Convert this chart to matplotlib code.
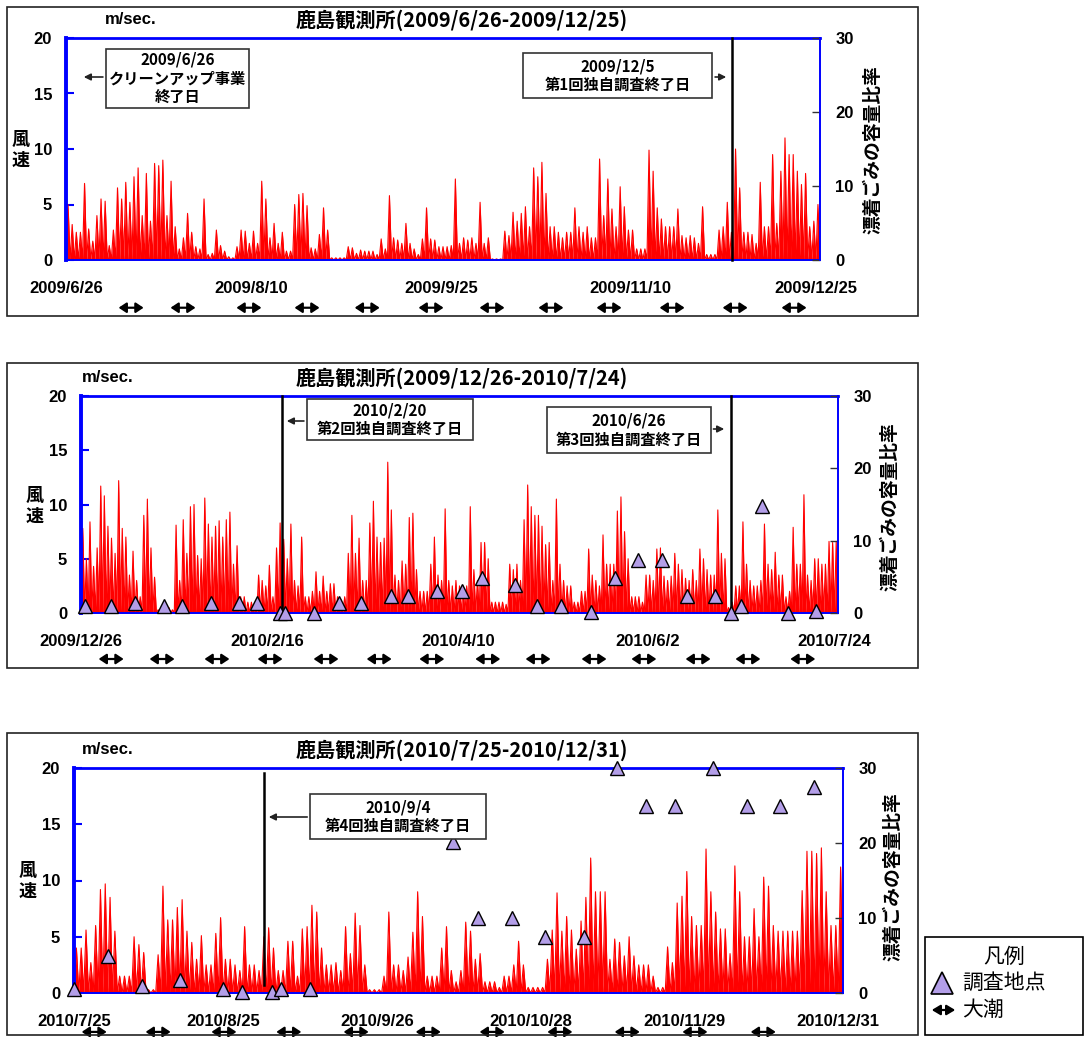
import numpy as np
import pandas as pd
import matplotlib
matplotlib.use('Agg')
import matplotlib.pyplot as plt
import matplotlib.patches as patches
from matplotlib.lines import Line2D

plt.rcParams['font.family'] = ['Liberation Sans', 'Noto Sans CJK JP']
plt.rcParams['font.weight'] = 'bold'
JP = ['Noto Sans CJK JP', 'DejaVu Sans']

W, H = 1084, 1037

# ---------------- panel 1: 2009/6/26 - 2009/12/25 ----------------
p1_start = '2009-06-26'
p1_ndays = 183
p1_title = '鹿島観測所(2009/6/26-2009/12/25)'
p1_ticks = ['2009/6/26', '2009/8/10', '2009/9/25', '2009/11/10', '2009/12/25']
# daily peak wind speed (m/sec.)
p1_wind = [5.0, 3.2, 2.5, 2.5, 6.9, 2.8, 1.7, 4.0, 5.5, 5.3,
           1.3, 2.7, 6.5, 5.5, 7.0, 5.2, 7.5, 8.3, 4.0, 7.8,
           3.5, 8.7, 8.5, 9.0, 4.0, 7.1, 3.0, 1.0, 2.0, 4.2,
           2.5, 1.2, 1.0, 5.5, 0.5, 0.6, 2.7, 1.3, 0.8, 0.3,
           0.2, 1.2, 2.7, 2.6, 1.5, 2.6, 1.5, 7.1, 5.5, 2.0,
           3.3, 1.5, 2.5, 0.8, 0.8, 5.0, 5.9, 6.0, 4.9, 1.1,
           1.0, 2.3, 4.7, 2.7, 0.2, 0.2, 0.2, 0.2, 1.2, 1.1,
           0.6, 0.9, 0.8, 0.8, 0.8, 0.5, 1.9, 1.0, 5.8, 2.0,
           1.8, 1.5, 3.3, 1.5, 1.0, 0.5, 1.9, 4.7, 1.9, 1.8,
           1.2, 1.2, 1.2, 1.3, 7.3, 1.5, 2.0, 1.8, 2.0, 1.5,
           5.2, 1.5, 2.0, 0.1, 0.1, 0.1, 2.6, 2.2, 4.3, 3.5,
           4.2, 4.8, 3.0, 8.3, 7.5, 8.8, 6.0, 3.0, 3.0, 2.5,
           2.0, 2.5, 2.5, 4.7, 3.0, 2.5, 3.0, 2.0, 2.0, 9.1,
           4.0, 7.3, 4.6, 3.0, 6.6, 4.8, 2.7, 2.7, 1.0, 1.0,
           1.0, 9.9, 8.0, 4.7, 3.7, 3.0, 3.0, 3.0, 4.6, 2.2,
           2.0, 2.2, 2.0, 1.5, 4.8, 0.5, 0.5, 0.5, 2.7, 3.0,
           5.2, 2.5, 10.0, 6.5, 2.5, 2.5, 2.3, 1.5, 7.0, 3.0,
           3.0, 9.5, 3.3, 8.0, 11.0, 9.5, 9.5, 8.0, 6.8, 7.8,
           3.0, 3.5, 5.0]
p1_tide = [15.8, 28.4, 44.4, 58.5, 73.1, 88.6, 103.4, 117.7, 131.8, 147.1, 162.4, 176.7]
p1_event = [161.6]

# ---------------- panel 2: 2009/12/26 - 2010/7/24 ----------------
p2_start = '2009-12-26'
p2_ndays = 211
p2_title = '鹿島観測所(2009/12/26-2010/7/24)'
p2_ticks = ['2009/12/26', '2010/2/16', '2010/4/10', '2010/6/2', '2010/7/24']
p2_wind = [7.8, 5.0, 8.4, 4.3, 6.0, 11.7, 10.8, 8.0, 6.9, 5.5,
           12.2, 7.8, 7.0, 3.5, 5.7, 3.0, 1.5, 9.0, 10.5, 6.0,
           3.3, 0.3, 0.3, 0.3, 0.5, 0.3, 8.1, 3.0, 8.6, 5.5,
           9.8, 10.0, 5.3, 5.0, 10.6, 8.2, 7.0, 8.0, 8.5, 7.0,
           8.6, 9.3, 4.5, 6.2, 1.5, 1.5, 1.0, 1.0, 0.8, 3.5,
           3.0, 2.5, 4.4, 1.5, 6.0, 8.3, 6.8, 5.0, 8.2, 3.0,
           2.5, 7.0, 1.5, 1.5, 2.0, 3.8, 2.0, 3.4, 2.0, 2.7,
           2.7, 1.5, 1.2, 1.5, 5.5, 9.0, 5.5, 6.9, 3.0, 3.0,
           8.3, 10.3, 7.0, 6.5, 6.9, 13.9, 9.5, 3.5, 3.0, 4.8,
           4.5, 8.8, 9.2, 4.0, 2.0, 2.0, 2.0, 4.5, 7.0, 3.5,
           3.0, 9.6, 3.0, 2.5, 3.0, 2.5, 2.5, 2.5, 9.8, 4.0,
           3.0, 6.5, 6.5, 5.0, 1.0, 1.0, 1.0, 1.0, 0.8, 4.5,
           4.0, 4.5, 3.0, 8.6, 11.8, 9.8, 9.0, 9.0, 8.0, 6.3,
           6.5, 3.0, 10.5, 4.5, 3.0, 2.5, 2.5, 1.0, 1.0, 2.0,
           2.0, 5.9, 3.5, 3.0, 2.5, 7.2, 4.5, 4.5, 4.5, 9.4,
           10.7, 7.5, 5.0, 1.5, 1.5, 1.5, 1.0, 3.5, 3.5, 3.0,
           5.9, 6.0, 3.4, 3.0, 3.4, 5.5, 4.5, 4.0, 3.2, 3.0,
           4.0, 3.0, 5.9, 5.0, 4.0, 3.5, 3.5, 9.5, 5.5, 5.0,
           0.5, 1.0, 2.5, 2.5, 8.4, 4.5, 3.0, 2.5, 2.5, 3.0,
           8.2, 4.5, 4.0, 5.6, 3.5, 3.5, 1.5, 2.0, 7.9, 4.5,
           4.5, 10.9, 3.5, 3.0, 5.0, 5.0, 4.5, 4.5, 6.6, 6.5,
           6.6]
p2_tide = [8.4, 22.6, 37.9, 52.7, 68.3, 83.1, 97.8, 113.4, 127.4, 143.0, 156.9, 172.0, 185.9, 201.2]
p2_event = [56.0, 181.1]
# survey points: day offset, litter volume ratio
p2_survey_day = [1.2, 8.4, 15.1, 23.1, 28.1, 36.1, 44.0, 49.0, 55.5, 57.0,
                 64.9, 71.9, 78.0, 86.3, 91.1, 99.1, 106.1, 111.8, 121.0, 127.2,
                 133.9, 142.1, 148.8, 155.2, 161.9, 169.0, 176.8, 181.1, 184.0, 189.7,
                 197.0, 205.0]
p2_survey_val = [0.9, 0.9, 1.4, 0.9, 0.9, 1.4, 1.4, 1.4, 0.0, 0.0,
                 0.0, 1.4, 1.4, 2.4, 2.4, 3.1, 3.0, 4.8, 3.9, 0.9,
                 0.9, 0.2, 4.8, 7.3, 7.3, 2.3, 2.3, 0.0, 0.9, 14.8,
                 0.0, 0.3]

# ---------------- panel 3: 2010/7/25 - 2010/12/31 ----------------
p3_start = '2010-07-25'
p3_ndays = 160
p3_title = '鹿島観測所(2010/7/25-2010/12/31)'
p3_ticks = ['2010/7/25', '2010/8/25', '2010/9/26', '2010/10/28', '2010/11/29', '2010/12/31']
p3_wind = [4.0, 4.0, 5.6, 2.7, 6.0, 9.2, 9.7, 8.5, 5.5, 1.5,
           1.5, 1.5, 5.0, 4.3, 3.6, 0.3, 0.3, 3.4, 9.5, 6.5,
           6.5, 7.6, 8.3, 5.5, 4.5, 3.0, 5.1, 2.5, 2.5, 5.3,
           6.7, 3.0, 3.0, 2.5, 2.0, 5.9, 2.5, 2.5, 2.0, 5.0,
           5.8, 4.0, 2.0, 2.0, 4.6, 4.6, 1.5, 5.7, 5.9, 7.8,
           7.2, 4.0, 2.5, 2.5, 2.7, 2.0, 5.9, 3.5, 7.1, 6.0,
           2.5, 0.3, 0.3, 0.3, 1.5, 7.2, 2.5, 2.5, 2.0, 3.2,
           5.4, 9.0, 6.8, 1.5, 1.5, 1.5, 4.0, 5.9, 2.0, 1.0,
           2.0, 6.3, 5.5, 3.0, 3.5, 1.0, 1.0, 1.0, 0.5, 1.5,
           1.5, 2.5, 4.6, 2.5, 0.5, 0.5, 0.5, 0.5, 3.0, 5.6,
           8.9, 5.5, 6.8, 5.6, 3.9, 6.4, 8.5, 12.0, 9.0, 9.0,
           9.0, 3.0, 4.8, 4.5, 3.3, 5.0, 3.3, 2.5, 2.5, 2.5,
           1.5, 0.5, 0.5, 4.1, 2.7, 8.0, 8.6, 10.8, 6.8, 6.0,
           6.0, 12.8, 9.0, 7.2, 5.7, 5.7, 3.5, 11.3, 9.0, 5.0,
           5.0, 7.5, 5.0, 10.3, 9.5, 6.0, 5.5, 5.5, 5.5, 5.5,
           5.5, 9.1, 12.6, 12.6, 12.4, 12.9, 9.0, 6.0, 6.0, 11.2]
p3_tide = [4.2, 17.5, 31.2, 44.7, 58.7, 73.7, 87.0, 101.1, 115.1, 129.2, 143.4]
p3_event = [39.5]
p3_survey_day = [0.1, 7.1, 14.2, 22.1, 31.1, 35.0, 41.1, 43.1, 49.0, 78.9,
                 84.0, 91.1, 98.1, 106.1, 112.9, 119.0, 125.0, 133.0, 140.0, 146.9,
                 154.0]
p3_survey_val = [0.5, 5.0, 1.0, 1.7, 0.5, 0.1, 0.1, 0.5, 0.5, 20.1,
                 10.0, 10.0, 7.5, 7.5, 30.0, 25.0, 25.0, 30.0, 25.0, 25.0,
                 27.5]


def fx(x):
    return x / W


def fy(y):
    return 1 - y / H


def draw_panel(fig, area, frame, start, ndays, title, ticks, wind, tide,
               events, survey_day=None, survey_val=None, tide_y=-0.21,
               event_span=(0, 1), unit_x=82):
    l, t, r, b = area
    ax = fig.add_axes([fx(l), fy(b), (r - l) / W, (b - t) / H])
    ax2 = ax.twinx()

    # outer chart frame
    fl, ft, fr, fb = frame
    fig.patches.append(patches.Rectangle((fx(fl), fy(fb)), (fr - fl) / W, (fb - ft) / H,
                                         transform=fig.transFigure, fill=False,
                                         edgecolor='#222222', lw=1.2))

    # wind speed spikes
    days = np.arange(len(wind))
    xs = np.append(np.column_stack([days, days + 0.5]).ravel(), len(wind))
    ys = np.append(np.column_stack([np.zeros(len(wind)), wind]).ravel(), 0)
    ax.fill_between(xs, ys, color='red', lw=0)
    ax.plot(xs, ys, color='red', lw=0.8)

    ax.set_xlim(0, ndays)
    ax.set_ylim(0, 20)
    ax2.set_ylim(0, 30)

    start_ts = pd.Timestamp(start)
    tick_pos = (pd.to_datetime(ticks, format='%Y/%m/%d') - start_ts).days
    ax.set_xticks(tick_pos, ticks)
    ax.tick_params(axis='x', length=0, pad=15, labelsize=12)

    ax.set_yticks([0, 5, 10, 15, 20])
    ax.tick_params(axis='y', direction='in', length=6, width=1.5, color='blue',
                   labelsize=12, pad=10)
    ax2.set_yticks([0, 10, 20, 30])
    ax2.tick_params(axis='y', direction='in', length=6, width=1, color='#333333',
                    labelsize=12, pad=11)

    ax.spines['right'].set_visible(False)
    for s in ['left', 'top', 'bottom']:
        ax2.spines[s].set_visible(False)
    ax.spines['left'].set_color('blue')
    ax.spines['left'].set_linewidth(2.8)
    ax.spines['top'].set_color('blue')
    ax.spines['top'].set_linewidth(2.0)
    ax.spines['bottom'].set_color('blue')
    ax.spines['bottom'].set_linewidth(1.4)
    ax2.spines['right'].set_color('blue')
    ax2.spines['right'].set_linewidth(1.4)

    for e in events:
        ax.axvline(e, ymin=event_span[0], ymax=event_span[1], color='black',
                   lw=1.8, clip_on=False, zorder=5)

    if survey_day is not None:
        ax2.plot(survey_day, survey_val, ls='none', marker='^', ms=10,
                 mfc='#b39ee8', mec='black', mew=1.0, clip_on=False, zorder=6)

    # spring tide arrows
    px_per_day = (r - l) / ndays
    half = 12.5 / px_per_day
    for c in tide:
        ax.annotate('', xy=(c + half, tide_y), xytext=(c - half, tide_y),
                    xycoords=ax.get_xaxis_transform(), textcoords=ax.get_xaxis_transform(),
                    annotation_clip=False,
                    arrowprops=dict(arrowstyle='<|-|>,head_length=0.45,head_width=0.3',
                                    color='black', lw=1.6, shrinkA=0, shrinkB=0))

    # texts
    fig.text(fx(462), fy(t - 18), title, family=JP, fontsize=14.5,
             fontweight='bold', ha='center', va='center')
    fig.text(fx(unit_x), fy(t - 18), 'm/sec.', fontsize=12, fontweight='bold',
             ha='left', va='center')
    return ax, ax2


fig = plt.figure(figsize=(W / 100, H / 100), dpi=100)

draw_panel(fig, (66, 38, 820, 260), (7, 7, 918, 316), p1_start, p1_ndays,
           p1_title, p1_ticks, p1_wind, p1_tide, p1_event, tide_y=-0.215, unit_x=105)
draw_panel(fig, (81, 396, 838, 613), (7, 363, 918, 668), p2_start, p2_ndays,
           p2_title, p2_ticks, p2_wind, p2_tide, p2_event,
           p2_survey_day, p2_survey_val, tide_y=-0.212, event_span=(-0.02, 1), unit_x=82)
draw_panel(fig, (74, 768, 843, 993), (7, 733, 918, 1035), p3_start, p3_ndays,
           p3_title, p3_ticks, p3_wind, p3_tide, p3_event,
           p3_survey_day, p3_survey_val, tide_y=-0.173, event_span=(0.036, 0.98), unit_x=82)

# axis titles
for x, y in [(21, 150), (35, 506), (28, 881)]:
    fig.text(fx(x), fy(y), '風\n速', family=JP, fontsize=13, fontweight='bold',
             ha='center', va='center', linespacing=1.15)
for x, y in [(873, 150), (890, 507), (893, 877)]:
    fig.text(fx(x), fy(y), '漂着ごみの容量比率', family=JP, fontsize=13.5, fontweight='bold',
             ha='center', va='center', rotation=90)

# annotation boxes: (left, top, right, bottom, text)
boxes = [(105.7, 48.7, 249.3, 108.3, '2009/6/26\nクリーンアップ事業\n終了日'),
         (523, 53, 712.3, 97.7, '2009/12/5\n第1回独自調査終了日'),
         (306.7, 399.3, 473.3, 440, '2010/2/20\n第2回独自調査終了日'),
         (546.7, 407.3, 710.7, 452.7, '2010/6/26\n第3回独自調査終了日'),
         (310, 794.3, 486, 839, '2010/9/4\n第4回独自調査終了日')]
for bl, bt, br, bb, txt in boxes:
    fig.patches.append(patches.Rectangle((fx(bl), fy(bb)), (br - bl) / W, (bb - bt) / H,
                                         transform=fig.transFigure, facecolor='white',
                                         edgecolor='#333333', lw=1.2, zorder=10))
    fig.text(fx((bl + br) / 2), fy((bt + bb) / 2), txt, family=JP, fontsize=11,
             fontweight='bold', ha='center', va='center', linespacing=1.2, zorder=11)

# arrows from boxes to the event lines (figure pixels)
box_arrows = [((105.7, 77), (81, 77)), ((712.3, 77), (729, 77)),
              ((306.7, 421), (284, 421)), ((710.7, 429), (727, 429)),
              ((310, 817), (266, 817))]
for (x0, y0), (x1, y1) in box_arrows:
    fig.add_artist(patches.FancyArrowPatch((fx(x0), fy(y0)), (fx(x1), fy(y1)),
                                           transform=fig.transFigure,
                                           arrowstyle='-|>,head_length=4,head_width=2',
                                           color='#222222', lw=1.2, zorder=12))

# legend
fig.patches.append(patches.Rectangle((fx(925), fy(1035)), 158 / W, 98 / H,
                                     transform=fig.transFigure, fill=False,
                                     edgecolor='black', lw=1.2))
fig.text(fx(1004), fy(957), '凡例', family=JP, fontsize=15, fontweight='normal',
         ha='center', va='center')
fig.add_artist(Line2D([fx(942)], [fy(983)], marker='^', ms=16, mfc='#b39ee8',
                      mec='black', mew=1.2, transform=fig.transFigure))
fig.text(fx(962), fy(983), '調査地点', family=JP, fontsize=15, fontweight='normal',
         ha='left', va='center')
fig.add_artist(patches.FancyArrowPatch((fx(929), fy(1010)), (fx(958), fy(1010)),
                                       transform=fig.transFigure,
                                       arrowstyle='<|-|>,head_length=5,head_width=3',
                                       color='black', lw=1.6))
fig.text(fx(962), fy(1010), '大潮', family=JP, fontsize=15, fontweight='normal',
         ha='left', va='center')

fig.savefig('out.png', dpi=100)
